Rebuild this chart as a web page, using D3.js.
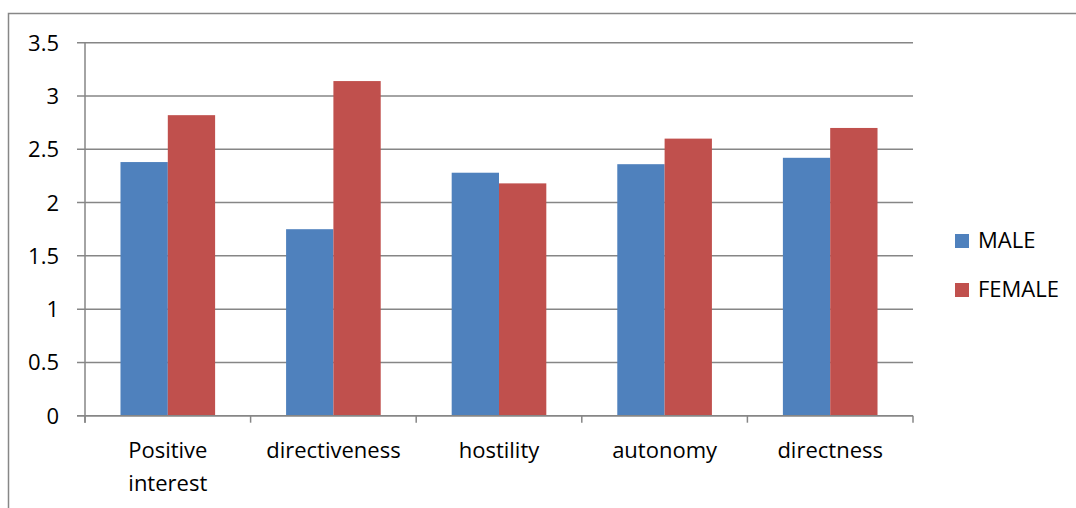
<!DOCTYPE html>
<html lang="en">
<head>
    <meta charset="UTF-8">
    <title>Male / female bar chart</title>
    <style>
        body { margin: 0; background: #fff; }
        svg text { font-family: "Open Sans", "Noto Sans", sans-serif; fill: #000; }
    </style>
</head>
<body>
    <script src="https://cdn.jsdelivr.net/npm/d3@7"></script>
    <script type="text/javascript">
    var categories = [["Positive", "interest"], ["directiveness"], ["hostility"], ["autonomy"], ["directness"]],
        seriesNames = ["MALE", "FEMALE"],
        maleValues = [2.38, 1.75, 2.28, 2.36, 2.42],
        femaleValues = [2.82, 3.14, 2.18, 2.60, 2.70],
        yTicks = [0, 0.5, 1, 1.5, 2, 2.5, 3, 3.5],
        colors = ["#4F81BD", "#C0504D"];

    var w = 1076,
        h = 508,
        plotLeft = 85,
        plotRight = 913,
        plotTop = 42.7,
        plotBottom = 415.7,
        fontSize = "22px";

    var svg = d3.select("body")
        .append("svg")
        .attr("width", w)
        .attr("height", h);

    // outer chart frame
    svg.append("rect")
        .attr("x", 8.5)
        .attr("y", 13.5)
        .attr("width", w + 10)
        .attr("height", h + 10)
        .attr("fill", "none")
        .attr("stroke", "#878787")
        .attr("stroke-width", 1.5);

    var x = d3.scaleBand()
        .domain(d3.range(categories.length))
        .range([plotLeft, plotRight]);

    // excel style gap width of 150%
    var x1 = d3.scaleBand()
        .domain([0, 1])
        .range([0, x.bandwidth()])
        .paddingInner(0)
        .paddingOuter(0.75);

    var y = d3.scaleLinear()
        .domain([0, 3.5])
        .range([plotBottom, plotTop]);

    // gridlines
    svg.append("g")
        .selectAll("line")
        .data(yTicks)
        .enter()
        .append("line")
        .attr("x1", plotLeft - 8)
        .attr("x2", plotRight)
        .attr("y1", function(d) { return y(d); })
        .attr("y2", function(d) { return y(d); })
        .attr("stroke", "#868686")
        .attr("stroke-width", 1.5);

    // y axis line
    svg.append("line")
        .attr("x1", plotLeft)
        .attr("x2", plotLeft)
        .attr("y1", plotTop)
        .attr("y2", plotBottom + 7)
        .attr("stroke", "#868686")
        .attr("stroke-width", 1.5);

    // category ticks
    svg.append("g")
        .selectAll("line")
        .data(d3.range(categories.length + 1))
        .enter()
        .append("line")
        .attr("x1", function(d) { return plotLeft + d * x.step(); })
        .attr("x2", function(d) { return plotLeft + d * x.step(); })
        .attr("y1", plotBottom)
        .attr("y2", plotBottom + 7)
        .attr("stroke", "#868686")
        .attr("stroke-width", 1.5);

    var series = [maleValues, femaleValues];

    series.forEach(function(vals, s) {
        svg.append("g")
            .selectAll("rect")
            .data(vals)
            .enter()
            .append("rect")
            .attr("x", function(d, i) { return x(i) + x1(s); })
            .attr("y", function(d) { return y(d); })
            .attr("width", x1.bandwidth())
            .attr("height", function(d) { return plotBottom - y(d); })
            .attr("fill", colors[s]);
    });

    // redraw the baseline on top of the bars
    svg.append("line")
        .attr("x1", plotLeft - 8)
        .attr("x2", plotRight)
        .attr("y1", y(0))
        .attr("y2", y(0))
        .attr("stroke", "#868686")
        .attr("stroke-width", 1.5);

    // y labels
    svg.append("g")
        .selectAll("text")
        .data(yTicks)
        .enter()
        .append("text")
        .text(function(d) { return d; })
        .attr("x", 59)
        .attr("y", function(d) { return y(d) + 8; })
        .attr("text-anchor", "end")
        .attr("font-size", fontSize);

    // category labels
    var cat = svg.append("g")
        .selectAll("text")
        .data(categories)
        .enter()
        .append("text")
        .attr("x", function(d, i) { return x(i) + x.bandwidth() / 2; })
        .attr("y", 458)
        .attr("text-anchor", "middle")
        .attr("font-size", fontSize);

    cat.selectAll("tspan")
        .data(function(d) { return d; })
        .enter()
        .append("tspan")
        .attr("x", function() { return d3.select(this.parentNode).attr("x"); })
        .attr("dy", function(d, i) { return i === 0 ? 0 : 33; })
        .text(function(d) { return d; });

    // legend
    var legend = svg.append("g")
        .selectAll("g")
        .data(seriesNames)
        .enter()
        .append("g")
        .attr("transform", function(d, i) { return "translate(955," + (234 + i * 49) + ")"; });

    legend.append("rect")
        .attr("width", 14)
        .attr("height", 14)
        .attr("fill", function(d, i) { return colors[i]; });

    legend.append("text")
        .text(function(d) { return d; })
        .attr("x", 23)
        .attr("y", 14)
        .attr("font-size", fontSize);
    </script>
</body>
</html>
